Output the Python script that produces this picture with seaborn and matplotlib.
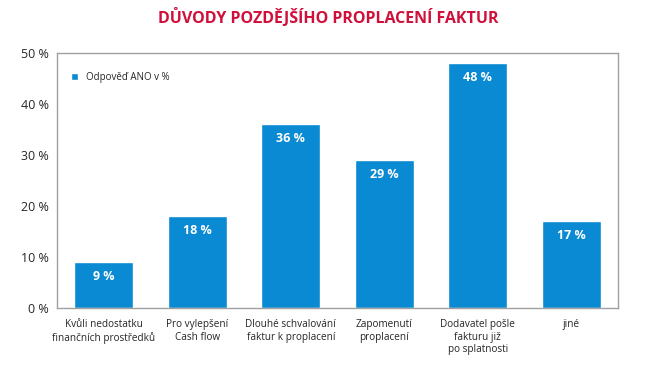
import matplotlib
matplotlib.use('Agg')
import matplotlib.pyplot as plt
import seaborn as sns
import pandas as pd

categories = ['Kvůli nedostatku\nfinančních prostředků', 'Pro vylepšení\nCash flow',
              'Dlouhé schvalování\nfaktur k proplacení', 'Zapomenutí\nproplacení',
              'Dodavatel pošle\nfakturu již\npo splatnosti', 'jiné']
values = [9, 18, 36, 29, 48, 17]
yticks = [0, 10, 20, 30, 40, 50]

BLUE = '#0a8ad2'
RED = '#d0103a'
GRAY = '#a0a0a0'

sns.set_style('white')
plt.rcParams['font.family'] = ['Open Sans', 'DejaVu Sans']

df = pd.DataFrame({'kategorie': categories, 'hodnota': values})

fig = plt.figure(figsize=(6.57, 3.73), dpi=100)
ax = fig.add_axes([0.0868, 0.174, 0.8538, 0.684])

sns.barplot(data=df, x='kategorie', y='hodnota', color=BLUE, width=0.63,
            saturation=1, ax=ax, label='Odpověď ANO v %')

# popisky hodnot uvnitř sloupců
for i, v in enumerate(values):
    ax.annotate(f'{v} %', (i, v), xytext=(0, -10), textcoords='offset points',
                ha='center', va='center', color='white', fontsize=9, fontweight='bold')

ax.set_ylim(0, 50)
ax.set_xlim(-0.5, len(categories) - 0.5)
ax.set_yticks(yticks)
ax.set_yticklabels([f'{t} %' for t in yticks], fontsize=9)
ax.tick_params(axis='y', direction='in', length=14, color=GRAY, width=0.8, pad=6)
ax.tick_params(axis='x', length=0, pad=8, labelsize=7.2)
ax.set_xlabel('')
ax.set_ylabel('')
for s in ax.spines.values():
    s.set_color(GRAY)
    s.set_linewidth(1)

ax.legend(loc='upper left', bbox_to_anchor=(0.01, 0.96), frameon=False,
          fontsize=7, handlelength=0.7, handleheight=0.7, handletextpad=0.8)

fig.text(0.5, 0.952, 'DŮVODY POZDĚJŠÍHO PROPLACENÍ FAKTUR', ha='center', va='center',
         color=RED, fontsize=11.5, fontweight='bold')

fig.savefig('out.png', dpi=100)
